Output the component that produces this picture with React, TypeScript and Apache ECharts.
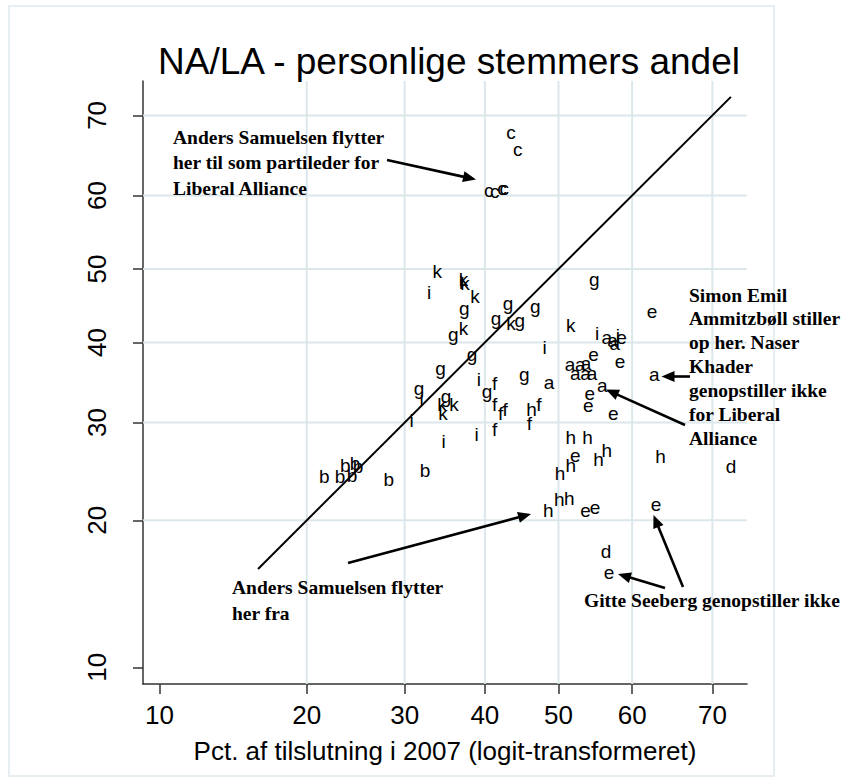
import React, { useEffect, useRef } from "react";
import * as echarts from "echarts";

// ---------- data (percent) ----------
const tickPct = [10, 20, 30, 40, 50, 60, 70];
const gridPct = [20, 30, 40, 50, 60, 70];
const diagonalPct = [16.05, 72.1];

const letters = [
  "b", "b", "b", "b", "b", "b", "b", "b",
  "c", "c", "c", "c", "c", "c",
  "d", "d",
  "e", "e", "e", "e", "e", "e", "e", "e", "e", "e", "e", "e",
  "a", "a", "a", "a", "a", "a", "a", "a", "a", "a", "a", "a",
  "f", "f", "f", "f", "f", "f", "f",
  "g", "g", "g", "g", "g", "g", "g", "g", "g", "g", "g", "g", "g",
  "h", "h", "h", "h", "h", "h", "h", "h", "h", "h", "h",
  "i", "i", "i", "i", "i", "i", "i", "i", "i", "i",
  "k", "k", "k", "k", "k", "k", "k", "k", "k", "k",
];

// Pct. af tilslutning i 2007
const pct2007 = [
  21.6, 23.1, 24.3, 23.6, 24.6, 24.9, 28.2, 32.4,
  43.5, 44.4, 40.5, 41.3, 42.3, 42.6,
  56.5, 72.1,
  62.6, 58.6, 54.8, 58.4, 54.3, 54.1, 57.5, 52.3, 53.7, 55.0, 63.1, 56.9,
  56.6, 57.4, 57.7, 51.6, 52.3, 53.0, 53.8, 54.6, 53.7, 56.0, 62.9, 48.7,
  41.3, 41.3, 42.1, 42.7, 47.3, 46.0, 41.3,
  37.3, 35.9, 41.5, 43.1, 44.7, 46.8, 54.9, 38.3, 34.3, 40.3, 45.3, 31.7, 35.0,
  46.3, 51.7, 54.0, 56.6, 55.5, 51.7, 50.2, 63.7, 48.6, 50.1, 51.5,
  32.9, 36.9, 48.1, 55.3, 58.1, 39.2, 32.0, 30.8, 34.7, 38.9,
  33.9, 37.4, 37.2, 38.7, 37.2, 43.5, 51.7, 34.5, 36.0, 34.6,
];

// Personlige stemmers andel
const pctPersonal = [
  24.1, 24.2, 24.3, 25.3, 25.5, 25.2, 23.8, 24.8,
  68.0, 65.9, 60.7, 60.5, 60.9, 60.9,
  17.4, 25.2,
  44.1, 40.6, 38.4, 37.5, 33.5, 32.0, 31.1, 26.3, 20.9, 21.2, 21.4, 15.8,
  40.7, 40.3, 39.9, 37.1, 36.0, 37.1, 37.3, 36.0, 36.0, 34.5, 35.8, 34.9,
  34.7, 32.2, 31.1, 31.5, 32.2, 29.9, 29.2,
  44.6, 41.0, 43.2, 45.3, 43.0, 44.8, 48.6, 38.4, 36.6, 33.7, 35.8, 34.1, 33.1,
  31.6, 28.3, 28.3, 26.9, 25.9, 25.3, 24.5, 26.2, 20.9, 21.9, 22.0,
  46.7, 48.2, 39.4, 41.2, 40.9, 35.2, 32.9, 30.3, 27.9, 28.6,
  49.6, 48.0, 48.6, 46.2, 41.9, 42.6, 42.3, 32.1, 32.2, 31.1,
];

const titleText = "NA/LA - personlige stemmers andel";
const xTitle = "Pct. af tilslutning i 2007 (logit-transformeret)";

const annotTopLeft = ["Anders Samuelsen flytter", "her til som partileder for", "Liberal Alliance"];
const annotBottomLeft = ["Anders Samuelsen flytter", "her fra"];
const annotRight = [
  "Simon Emil",
  "Ammitzbøll stiller",
  "op her. Naser",
  "Khader",
  "genopstiller ikke",
  "for Liberal",
  "Alliance",
];
const annotGitte = "Gitte Seeberg genopstiller ikke";

// ---------- helpers ----------
const logit = (p: number) => Math.log(p / (100 - p));
const inv = (v: number) => 100 / (1 + Math.exp(-v));

const SANS = '"Liberation Sans", Arial, Helvetica, sans-serif';
const SERIF = '"Liberation Serif", "Times New Roman", Times, serif';
const GRID_COLOR = "#dce7eb";

function arrow(x1: number, y1: number, x2: number, y2: number) {
  const head = 13;
  const half = 5.5;
  const dx = x2 - x1;
  const dy = y2 - y1;
  const len = Math.hypot(dx, dy);
  const ux = dx / len;
  const uy = dy / len;
  const bx = x2 - ux * head;
  const by = y2 - uy * head;
  return [
    {
      type: "line",
      shape: { x1, y1, x2: bx + ux * 3, y2: by + uy * 3 },
      style: { stroke: "#000", lineWidth: 2.6 },
      silent: true,
      z: 10,
    },
    {
      type: "polygon",
      shape: {
        points: [
          [x2, y2],
          [bx - uy * half, by + ux * half],
          [bx + uy * half, by - ux * half],
        ],
      },
      style: { fill: "#000" },
      silent: true,
      z: 10,
    },
  ];
}

function textLine(t: string, x: number, y: number) {
  return {
    type: "text",
    x,
    y,
    silent: true,
    z: 10,
    style: {
      text: t,
      fill: "#000",
      fontFamily: SERIF,
      fontWeight: "bold",
      fontSize: 19.5,
      align: "left",
      verticalAlign: "middle",
      textAlign: "left",
      textVerticalAlign: "middle",
    },
  };
}

export default function App() {
  const ref = useRef<HTMLDivElement>(null);

  useEffect(() => {
    if (!ref.current) return;
    const chart = echarts.init(ref.current, null, { renderer: "svg" });

    const pointData = letters.map((_, i) => [logit(pct2007[i]), logit(pctPersonal[i]), i]);
    const tickVals = tickPct.map(logit);
    // [x, y, direction]: 0 = vertical line at x, 1 = horizontal line at y
    const gridData = [
      ...gridPct.map((p) => [logit(p), 0, 0]),
      ...gridPct.map((p) => [0, logit(p), 1]),
    ];

    const graphics: any[] = [
      {
        type: "rect",
        shape: { x: 9, y: 6, width: 765, height: 770 },
        style: { fill: "none", stroke: "#e6eef1", lineWidth: 2 },
        silent: true,
        z: -1,
      },
    ];
    annotTopLeft.forEach((t, i) => graphics.push(textLine(t, 173, [137, 162, 188][i])));
    annotBottomLeft.forEach((t, i) => graphics.push(textLine(t, 232, [587, 613][i])));
    annotRight.forEach((t, i) => graphics.push(textLine(t, 689, 295 + i * 23.9)));
    graphics.push(textLine(annotGitte, 584, 600));
    graphics.push(...arrow(387, 160, 476, 179.5));
    graphics.push(...arrow(348, 563, 531, 514));
    graphics.push(...arrow(690, 376.5, 661.5, 376.5));
    graphics.push(...arrow(685, 425, 606, 389.5));
    graphics.push(...arrow(665, 588, 618, 574));
    graphics.push(...arrow(683, 587, 653.5, 515));

    const axisCommon = {
      type: "value",
      axisLine: { show: true, onZero: false, lineStyle: { color: "#333", width: 1.5 } },
      axisTick: {
        show: true,
        inside: false,
        length: 10,
        customValues: tickVals,
        lineStyle: { color: "#333", width: 1.5 },
      },
      splitLine: { show: false },
    };

    chart.setOption({
      animation: false,
      backgroundColor: "#fff",
      title: {
        text: titleText,
        left: 444,
        top: 38,
        textAlign: "center",
        textStyle: { fontFamily: SANS, fontSize: 37, fontWeight: "normal", color: "#000" },
      },
      grid: { left: 143, top: 81, width: 604, height: 603 },
      xAxis: {
        ...axisCommon,
        min: -2.288,
        max: 1.038,
        axisLabel: {
          customValues: tickVals,
          formatter: (v: number) => String(Math.round(inv(v))),
          fontFamily: SANS,
          fontSize: 26,
          color: "#000",
          margin: 18,
        },
        name: xTitle,
        nameLocation: "middle",
        nameGap: 54,
        nameTextStyle: { fontFamily: SANS, fontSize: 26, color: "#000" },
      },
      yAxis: {
        ...axisCommon,
        min: -2.289,
        max: 1.037,
        axisLabel: {
          customValues: tickVals,
          formatter: (v: number) => String(Math.round(inv(v))),
          fontFamily: SANS,
          fontSize: 26,
          color: "#000",
          rotate: 90,
          margin: 33,
        },
      },
      series: [
        {
          type: "custom",
          name: "gridlines",
          z: 1,
          silent: true,
          data: gridData,
          renderItem: (params: any, api: any) => {
            const cs = params.coordSys;
            const dir = api.value(2);
            if (dir === 0) {
              const p = api.coord([api.value(0), 0]);
              return {
                type: "line",
                shape: { x1: p[0], y1: cs.y, x2: p[0], y2: cs.y + cs.height },
                style: { stroke: GRID_COLOR, lineWidth: 2 },
              };
            }
            const p = api.coord([0, api.value(1)]);
            return {
              type: "line",
              shape: { x1: cs.x, y1: p[1], x2: cs.x + cs.width, y2: p[1] },
              style: { stroke: GRID_COLOR, lineWidth: 2 },
            };
          },
        },
        {
          type: "line",
          name: "y = x",
          data: diagonalPct.map((p) => [logit(p), logit(p)]),
          symbol: "none",
          silent: true,
          z: 2,
          lineStyle: { color: "#000", width: 2 },
        },
        {
          type: "custom",
          name: "letters",
          z: 3,
          silent: true,
          data: pointData,
          renderItem: (_params: any, api: any) => {
            const idx = api.value(2);
            const pt = api.coord([api.value(0), api.value(1)]);
            return {
              type: "text",
              x: pt[0],
              y: pt[1],
              style: {
                text: letters[idx],
                fill: "#000",
                fontFamily: SANS,
                fontSize: 19,
                align: "center",
                verticalAlign: "middle",
                textAlign: "center",
                textVerticalAlign: "middle",
              },
            };
          },
        },
      ],
      graphic: graphics,
    });

    return () => chart.dispose();
  }, []);

  return (
    <div
      ref={ref}
      style={{ position: "absolute", left: 0, top: 0, width: 852, height: 784, background: "#fff" }}
    />
  );
}
